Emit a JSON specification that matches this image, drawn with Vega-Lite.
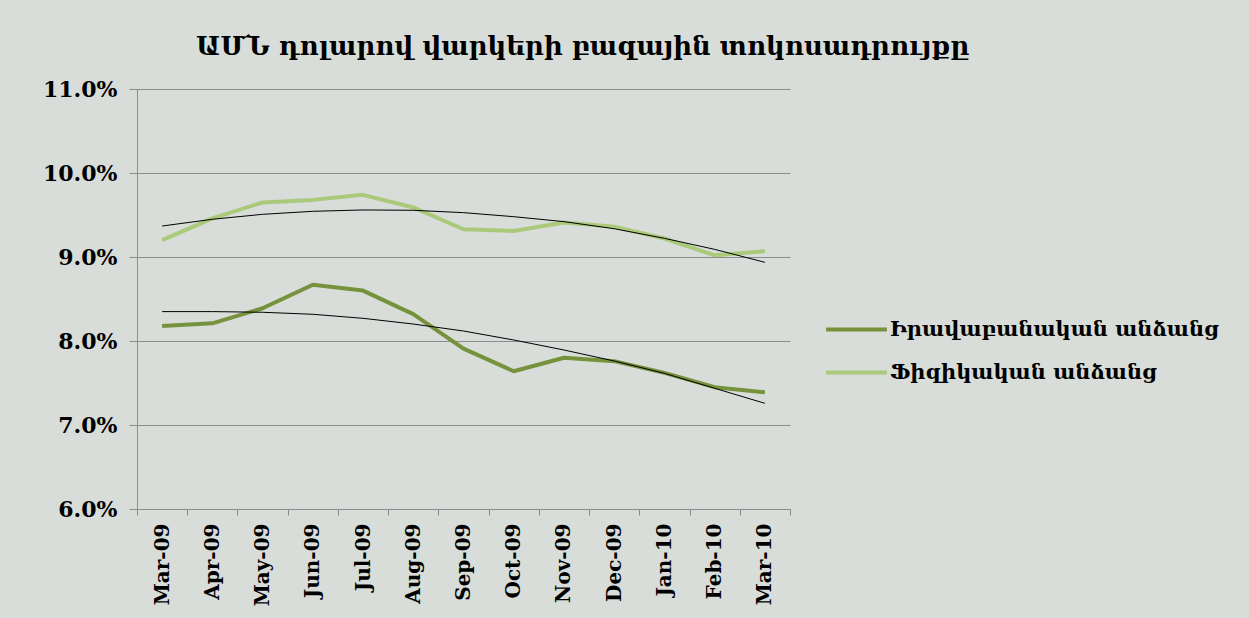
{
  "$schema": "https://vega.github.io/schema/vega-lite/v6.json",
  "autosize": {"type": "none"},
  "width": 653,
  "height": 420,
  "padding": {"left": 137, "top": 89, "right": 459, "bottom": 109},
  "background": "#d8ddd9",
  "title": {
    "text": "ԱՄՆ դոլարով վարկերի բազային տոկոսադրույքը",
    "anchor": "start",
    "frame": "group",
    "dx": 59,
    "offset": 18,
    "font": "DejaVu Serif",
    "fontSize": 26,
    "fontWeight": "bold",
    "color": "#000000"
  },
  "config": {
    "view": {"stroke": null},
    "font": "DejaVu Serif"
  },
  "data": {
    "values": [
      {"month": "Mar-09", "series": "Իրավաբանական անձանց", "rate": 0.0818, "trend": 0.0835},
      {"month": "Apr-09", "series": "Իրավաբանական անձանց", "rate": 0.0821, "trend": 0.0835},
      {"month": "May-09", "series": "Իրավաբանական անձանց", "rate": 0.0839, "trend": 0.08342},
      {"month": "Jun-09", "series": "Իրավաբանական անձանց", "rate": 0.0867, "trend": 0.08318},
      {"month": "Jul-09", "series": "Իրավաբանական անձանց", "rate": 0.0860, "trend": 0.0827},
      {"month": "Aug-09", "series": "Իրավաբանական անձանց", "rate": 0.0832, "trend": 0.08202},
      {"month": "Sep-09", "series": "Իրավաբանական անձանց", "rate": 0.0791, "trend": 0.08119},
      {"month": "Oct-09", "series": "Իրավաբանական անձանց", "rate": 0.0764, "trend": 0.08012},
      {"month": "Nov-09", "series": "Իրավաբանական անձանց", "rate": 0.0780, "trend": 0.07893},
      {"month": "Dec-09", "series": "Իրավաբանական անձանց", "rate": 0.0776, "trend": 0.07762},
      {"month": "Jan-10", "series": "Իրավաբանական անձանց", "rate": 0.0762, "trend": 0.07615},
      {"month": "Feb-10", "series": "Իրավաբանական անձանց", "rate": 0.0745, "trend": 0.07437},
      {"month": "Mar-10", "series": "Իրավաբանական անձանց", "rate": 0.0739, "trend": 0.07258},
      {"month": "Mar-09", "series": "Ֆիզիկական անձանց", "rate": 0.0920, "trend": 0.09369},
      {"month": "Apr-09", "series": "Ֆիզիկական անձանց", "rate": 0.0946, "trend": 0.09449},
      {"month": "May-09", "series": "Ֆիզիկական անձանց", "rate": 0.0965, "trend": 0.09508},
      {"month": "Jun-09", "series": "Ֆիզիկական անձանց", "rate": 0.0968, "trend": 0.09544},
      {"month": "Jul-09", "series": "Ֆիզիկական անձանց", "rate": 0.0974, "trend": 0.0956},
      {"month": "Aug-09", "series": "Ֆիզիկական անձանց", "rate": 0.0959, "trend": 0.09556},
      {"month": "Sep-09", "series": "Ֆիզիկական անձանց", "rate": 0.0933, "trend": 0.09528},
      {"month": "Oct-09", "series": "Ֆիզիկական անձանց", "rate": 0.0931, "trend": 0.0948},
      {"month": "Nov-09", "series": "Ֆիզիկական անձանց", "rate": 0.0941, "trend": 0.09421},
      {"month": "Dec-09", "series": "Ֆիզիկական անձանց", "rate": 0.0936, "trend": 0.09337},
      {"month": "Jan-10", "series": "Ֆիզիկական անձանց", "rate": 0.0922, "trend": 0.09222},
      {"month": "Feb-10", "series": "Ֆիզիկական անձանց", "rate": 0.0902, "trend": 0.09091},
      {"month": "Mar-10", "series": "Ֆիզիկական անձանց", "rate": 0.0907, "trend": 0.08937}
    ]
  },
  "encoding": {
    "x": {
      "field": "month",
      "type": "ordinal",
      "bandPosition": 0.5,
      "scale": {
        "type": "band",
        "paddingInner": 0,
        "paddingOuter": 0,
        "domain": ["Mar-09", "Apr-09", "May-09", "Jun-09", "Jul-09", "Aug-09", "Sep-09", "Oct-09", "Nov-09", "Dec-09", "Jan-10", "Feb-10", "Mar-10"]
      },
      "axis": {
        "title": null,
        "labelAngle": -90,
        "labelAlign": "right",
        "labelBaseline": "middle",
        "labelFont": "DejaVu Serif",
        "labelFontSize": 20,
        "labelFontWeight": "bold",
        "labelColor": "#000000",
        "labelPadding": 8,
        "tickBand": "extent",
        "tickSize": 6,
        "tickColor": "#8c8c8c",
        "domainColor": "#8c8c8c",
        "grid": false
      }
    },
    "y": {
      "field": "rate",
      "type": "quantitative",
      "scale": {"domain": [0.06, 0.11], "nice": false, "zero": false},
      "axis": {
        "title": null,
        "format": ".1%",
        "values": [0.06, 0.07, 0.08, 0.09, 0.1, 0.11],
        "labelOverlap": false,
        "labelFont": "DejaVu Serif",
        "labelFontSize": 22,
        "labelFontWeight": "bold",
        "labelColor": "#000000",
        "labelPadding": 12,
        "tickSize": 8,
        "tickColor": "#8c8c8c",
        "domainColor": "#8c8c8c",
        "grid": true,
        "gridColor": "#8c8c8c",
        "gridWidth": 1
      }
    }
  },
  "layer": [
    {
      "mark": {"type": "line", "strokeWidth": 4, "strokeJoin": "round"},
      "encoding": {
        "color": {
          "field": "series",
          "type": "nominal",
          "scale": {
            "domain": ["Իրավաբանական անձանց", "Ֆիզիկական անձանց"],
            "range": ["#76923c", "#aac97a"]
          },
          "legend": {
            "title": null,
            "orient": "none",
            "legendX": 687,
            "legendY": 208,
            "symbolType": "stroke",
            "symbolStrokeWidth": 4,
            "symbolSize": 3700,
            "rowPadding": -22,
            "labelFont": "DejaVu Serif",
            "labelFontSize": 21,
            "labelFontWeight": "bold",
            "labelColor": "#000000",
            "labelOffset": 1,
            "labelLimit": 400
          }
        }
      }
    },
    {
      "mark": {"type": "line", "strokeWidth": 1, "color": "#000000"},
      "encoding": {
        "y": {"field": "trend", "type": "quantitative"},
        "detail": {"field": "series", "type": "nominal"}
      }
    }
  ]
}
